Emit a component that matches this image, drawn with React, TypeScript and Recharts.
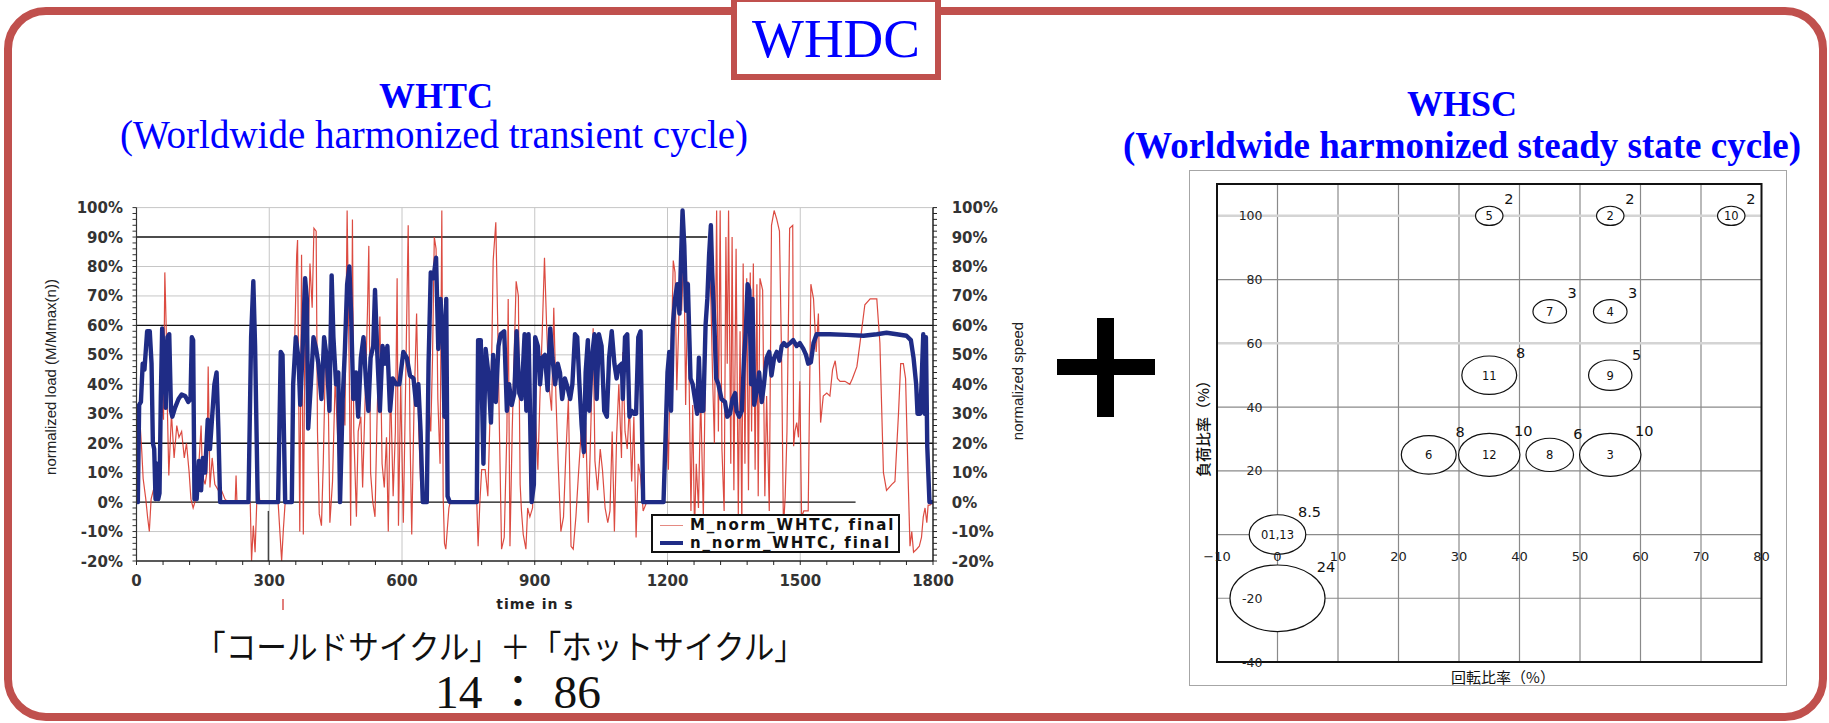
import React from 'react';
import {
  LineChart, Line, XAxis, YAxis, CartesianGrid, ReferenceLine, Legend,
  ScatterChart, Scatter, ZAxis, ReferenceArea,
} from 'recharts';

// WHTC trace: [time in s, % of max]
const torqueTrace: [number, number][] = [
  [0, 0], [4, 9], [8, 27], [12, 17], [15, 8], [21, 1], [25, -5], [29, -10], [33, 1], [38, 4], [43, 5], [49, 4],
  [55, 35], [61, 28], [64, 78], [67, 60], [70, 30], [73, 9], [79, 30], [85, 15], [91, 26], [96, 22], [102, 24],
  [108, 15], [113, 20], [119, 10], [123, 1], [128, -2], [136, 2], [141, 13], [146, 26], [149, 9], [155, 6],
  [159, 10], [162, 46], [166, 5], [171, 15], [177, 6], [185, 4], [192, 4], [200, 1], [207, 0], [223, 0], [225, 9],
  [227, 0], [257, 0], [260, -20], [264, -8], [268, -17], [272, 1], [275, 5], [279, 0], [320, 0], [324, -10],
  [328, -20], [332, -9], [336, 0], [351, 0], [354, 24], [358, 58], [362, 84], [364, 89], [366, 47], [369, -10],
  [373, 84], [377, -11], [381, 64], [385, 33], [392, 81], [397, 66], [401, 93], [406, 92], [409, 24], [413, -4],
  [418, -8], [422, 13], [428, 55], [433, 40], [437, -7], [443, 7], [449, 42], [456, 17], [460, 6], [466, 40],
  [471, 26], [476, 99], [481, 42], [484, -8], [488, 96], [491, 24], [497, -5], [501, 24], [507, 29], [511, 5],
  [516, 31], [522, 65], [525, 87], [529, 10], [534, 0], [539, -5], [544, 31], [550, 63], [555, 13], [560, 5],
  [565, 22], [569, -10], [574, 40], [580, 2], [585, 24], [589, 76], [592, -8], [597, 40], [603, -7], [609, 47],
  [614, 94], [618, 24], [622, -11], [627, 31], [633, 64], [638, 24], [642, 7], [648, 0], [659, 0], [660, 35],
  [665, 24], [669, 49], [673, 90], [677, 86], [681, 35], [686, 13], [690, 99], [693, 2], [696, -14], [699, -16],
  [702, -10], [706, -2], [709, 0], [769, 0], [772, -15], [776, 0], [780, 11], [788, 11], [794, 2], [803, 52],
  [806, 82], [812, 95], [816, 63], [820, 26], [825, -16], [831, -12], [837, 24], [840, 69], [844, -15], [849, 24],
  [854, 53], [858, 75], [863, 70], [867, 6], [870, -3], [874, -11], [880, -16], [884, -2], [889, -5], [895, -2],
  [901, 31], [907, 11], [912, 37], [917, 58], [922, 83], [927, 59], [932, 40], [938, 31], [943, 66], [948, 35],
  [953, 13], [959, -10], [965, -5], [970, 15], [976, 35], [982, -15], [987, -16], [993, -5], [999, 10], [1005, 24],
  [1010, 15], [1015, 27], [1021, -7], [1027, 27], [1032, 59], [1036, 14], [1042, 4], [1048, 18], [1053, 11],
  [1059, -2], [1065, -7], [1070, -3], [1075, 24], [1080, -10], [1085, 22], [1090, 40], [1096, 15], [1099, 51],
  [1104, 24], [1109, 18], [1114, 33], [1119, 7], [1124, 29], [1129, -12], [1134, 13], [1139, 9], [1145, -3],
  [1153, 0], [1191, 0], [1194, 13], [1198, 31], [1202, 11], [1206, 47], [1210, 60], [1213, 82], [1217, 78],
  [1221, 38], [1225, 58], [1228, 81], [1232, 65], [1237, 87], [1241, 33], [1246, 75], [1249, 40], [1253, -3],
  [1257, 33], [1261, -10], [1265, 13], [1270, -2], [1275, 36], [1281, -5], [1286, 49], [1290, 72], [1294, 83],
  [1298, 69], [1302, 42], [1306, 20], [1311, 99], [1315, 24], [1319, 99], [1323, 18], [1328, -3], [1332, 90],
  [1335, 47], [1338, 99], [1343, 13], [1346, 90], [1350, 4], [1355, 86], [1360, -4], [1364, 58], [1368, -10],
  [1371, 81], [1375, 13], [1379, 76], [1383, 4], [1387, 78], [1390, 24], [1394, 81], [1398, 11], [1402, 74],
  [1405, 2], [1409, 76], [1415, 72], [1420, 2], [1424, 36], [1430, -3], [1435, 94], [1441, 99], [1447, 96],
  [1453, 92], [1458, 47], [1462, -9], [1466, 2], [1470, 24], [1476, 93], [1483, 94], [1485, 19], [1488, 24],
  [1492, 27], [1496, 22], [1499, 41], [1503, -5], [1508, -3], [1518, -3], [1524, 74], [1530, 69], [1536, 51],
  [1541, 64], [1546, 27], [1552, 36], [1560, 37], [1567, 36], [1573, 45], [1579, 48], [1584, 42], [1590, 41],
  [1601, 41], [1612, 40], [1618, 42], [1628, 46], [1635, 54], [1646, 67], [1658, 69], [1673, 69], [1680, 54],
  [1688, 10], [1695, 4], [1707, 6], [1714, 7], [1722, 30], [1727, 47], [1733, 47], [1738, 42], [1744, 7],
  [1748, -15], [1752, -10], [1756, -17], [1763, -16], [1769, -15], [1774, -12], [1778, -5], [1782, -2],
  [1786, -7], [1789, -1], [1793, -1], [1800, 0],
];

const speedTrace: [number, number][] = [
  [0, 0], [3, 0], [6, 33], [10, 34], [14, 47], [18, 45], [24, 58], [30, 58], [34, 47], [37, 20], [40, 18], [43, 1],
  [46, 13], [49, 1], [52, 3], [55, 36], [58, 59], [63, 48], [66, 32], [70, 56], [74, 57], [78, 31], [81, 29],
  [87, 32], [95, 35], [102, 36.5], [110, 36], [117, 34], [122, 35], [125, 56], [128, 55], [131, 1], [136, 1],
  [141, 14], [146, 4], [150, 15], [155, 10], [161, 28], [166, 18], [171, 29], [176, 40], [181, 44], [185, 25],
  [189, 0], [253, 0], [259, 56], [264, 75], [268, 53], [274, 0], [320, 0], [326, 51], [330, 50], [336, 0],
  [351, 0], [354, 40], [360, 56], [366, 49], [370, 33], [375, 50], [381, 76], [385, 69], [388, 25], [394, 40],
  [400, 56], [406, 52], [411, 47], [418, 35], [424, 56], [430, 49], [436, 31], [441, 77], [445, 56], [451, 40],
  [456, 44], [460, 0], [466, 35], [471, 52], [476, 74], [481, 80], [485, 64], [490, 35], [496, 44], [501, 29],
  [507, 49], [513, 56], [519, 40], [524, 31], [529, 49], [535, 53], [539, 72], [544, 51], [550, 31], [556, 53],
  [562, 47], [567, 53], [573, 31], [579, 42], [587, 40], [594, 40], [603, 51], [611, 49], [618, 43], [626, 42],
  [632, 33], [637, 40], [642, 24], [647, 0], [656, 0], [660, 47], [665, 78], [671, 76], [677, 83], [682, 52],
  [687, 69], [692, 58], [696, 29], [700, 69], [703, 2], [708, 0], [769, 0], [772, 55], [778, 55], [784, 13],
  [789, 52], [795, 44], [801, 27], [806, 50], [812, 34], [818, 53], [823, 57], [831, 58], [837, 31], [842, 40],
  [848, 33], [854, 37], [859, 58], [865, 37], [870, 35], [877, 57], [881, 31], [886, 57], [889, 33], [893, 0],
  [898, 6], [901, 56], [907, 53], [912, 40], [917, 49], [923, 50], [929, 38], [935, 59], [940, 49], [946, 40],
  [952, 47], [957, 44], [962, 35], [968, 42], [974, 39], [980, 35], [985, 40], [991, 57], [996, 56], [1001, 40],
  [1006, 26], [1011, 17], [1015, 44], [1020, 55], [1023, 31], [1029, 49], [1035, 57], [1040, 35], [1045, 57],
  [1051, 53], [1057, 31], [1063, 29], [1068, 49], [1074, 58], [1080, 47], [1085, 42], [1090, 46], [1097, 47],
  [1099, 35], [1104, 56], [1109, 57], [1114, 29], [1119, 31], [1124, 30], [1129, 30], [1134, 56], [1139, 58],
  [1142, 29], [1145, 0], [1191, 0], [1196, 24], [1200, 44], [1204, 51], [1208, 31], [1212, 60], [1217, 69],
  [1222, 74], [1227, 64], [1231, 85], [1234, 99], [1238, 87], [1242, 65], [1246, 74], [1249, 58], [1252, 42],
  [1257, 40], [1262, 35], [1267, 30], [1271, 49], [1275, 31], [1281, 31], [1286, 60], [1290, 69], [1294, 84],
  [1298, 94], [1301, 78], [1306, 60], [1310, 42], [1315, 40], [1322, 35], [1330, 34], [1335, 29], [1341, 30],
  [1347, 35], [1353, 37], [1356, 31], [1362, 29], [1368, 31], [1373, 49], [1377, 58], [1381, 74], [1385, 72],
  [1389, 40], [1392, 69], [1396, 33], [1402, 38], [1407, 44], [1413, 34], [1418, 40], [1424, 49], [1430, 51],
  [1435, 43], [1441, 49], [1447, 51], [1453, 48], [1458, 53], [1463, 54], [1469, 53], [1477, 54], [1484, 55],
  [1492, 53], [1499, 54], [1507, 52], [1513, 50], [1518, 47], [1524, 47.5], [1530, 54], [1537, 57], [1567, 57],
  [1605, 56.8], [1643, 56.5], [1673, 57], [1695, 57.5], [1718, 57], [1740, 56.5], [1750, 55], [1756, 49],
  [1762, 40], [1765, 30], [1771, 30], [1774, 40], [1778, 57], [1781, 30], [1784, 56], [1787, 19], [1792, 0],
  [1800, 0],
];

const seriesNames = ['M_norm_WHTC, final', 'n_norm_WHTC, final'];
const timeLabels = [0, 300, 600, 900, 1200, 1500, 1800];
const percentLabels = [-20, -10, 0, 10, 20, 30, 40, 50, 60, 70, 80, 90, 100];

// WHSC modes: speed %, load %, weighting %
const modeNames = ['01,13', '', '5', '2', '10', '7', '4', '11', '9', '6', '12', '8', '3'];
const modeSpeed = [0, 0, 35, 55, 75, 45, 55, 35, 55, 25, 35, 45, 55];
const modeLoad = [0, -20, 100, 100, 100, 70, 70, 50, 50, 25, 25, 25, 25];
const modeWeight = [8.5, 24, 2, 2, 2, 3, 3, 8, 5, 8, 10, 6, 10];

const speedTicks = [-10, 0, 10, 20, 30, 40, 50, 60, 70, 80];
const loadTicks = [-40, -20, 0, 20, 40, 60, 80, 100];

const RED = '#d8372c';
const NAVY = '#1f2c86';
const FRAME = '#c0504d';

const minorTime = Array.from({ length: 31 }, (_, i) => i * 60);
const minorLoad = Array.from({ length: 61 }, (_, i) => -20 + i * 2);

const axisFont = { fontFamily: 'DejaVu Sans', fontWeight: 700, fontSize: 15, fill: '#333' };

const blankTick = () => <g />;

const timeTick = (p: any) =>
  timeLabels.includes(p.payload.value) ? (
    <text x={p.x} y={p.y + 19} textAnchor="middle" {...axisFont}>{p.payload.value}</text>
  ) : <g />;

const percentTick = (anchor: 'start' | 'end') => (p: any) =>
  percentLabels.includes(p.payload.value) ? (
    <text x={p.x} y={p.y + 5.5} textAnchor={anchor} {...axisFont}>{p.payload.value}%</text>
  ) : <g />;

const WhtcLegend = () => (
  <div style={{
    width: 249, height: 39, border: '2px solid #111', background: '#fff', boxSizing: 'border-box',
    position: 'relative', fontFamily: 'DejaVu Sans', fontWeight: 700, fontSize: 15, letterSpacing: 1.8, color: '#111',
  }}>
    {seriesNames.map((name, i) => (
      <div key={name} style={{ position: 'absolute', left: 0, top: i === 0 ? 1 : 19, height: 17, width: '100%' }}>
        <div style={{
          position: 'absolute', left: 7, top: 8 - (i === 0 ? 0.5 : 2), width: 23, height: i === 0 ? 1 : 4,
          background: i === 0 ? '#e58a82' : NAVY,
        }} />
        <div style={{ position: 'absolute', left: 37, top: -1, lineHeight: '18px', whiteSpace: 'nowrap' }}>{name}</div>
      </div>
    ))}
  </div>
);

function WhtcChart() {
  const torque = torqueTrace.map(([t, v]) => ({ t, v }));
  const speed = speedTrace.map(([t, v]) => ({ t, v }));
  return (
    <div style={{ position: 'absolute', left: 0, top: 180 }}>
      <LineChart width={1000} height={430} margin={{ top: 27.6, right: 7, bottom: 19, left: 76.5 }}>
        <CartesianGrid yAxisId="load" horizontalValues={[100, 80, 70, 50, 40, 30, 10, -10]}
          verticalValues={[300, 600, 900, 1200, 1500]} stroke="#c6c6c6" />
        <CartesianGrid yAxisId="load" horizontalValues={[60, 20]} vertical={false} stroke="#111" strokeWidth={1.4} />
        <XAxis type="number" dataKey="t" domain={[0, 1800]} ticks={minorTime} interval={0} height={30}
          tickSize={4} tickMargin={2} tick={timeTick} allowDataOverflow
          axisLine={{ stroke: '#222', strokeWidth: 1.5 }} tickLine={{ stroke: '#222' }} />
        <YAxis yAxisId="load" domain={[-20, 100]} ticks={minorLoad} interval={0} width={60}
          tickSize={4} tickMargin={9.5} tick={percentTick('end')} allowDataOverflow
          axisLine={{ stroke: '#333', strokeWidth: 1.2 }} tickLine={{ stroke: '#333' }} />
        <YAxis yAxisId="speed" orientation="right" domain={[-20, 100]} ticks={minorLoad} interval={0} width={60}
          tickSize={4} tickMargin={14.7} tick={percentTick('start')} allowDataOverflow
          axisLine={{ stroke: '#222', strokeWidth: 1.5 }} tickLine={{ stroke: '#222' }} />
        <ReferenceLine yAxisId="load" segment={[{ x: 0, y: 90 }, { x: 1290, y: 90 }]} stroke="#111" strokeWidth={1.4} />
        <ReferenceLine yAxisId="load" segment={[{ x: 0, y: 0 }, { x: 1625, y: 0 }]} stroke="#111" strokeWidth={1.4} />
        <ReferenceLine yAxisId="load" segment={[{ x: 298, y: -20 }, { x: 298, y: -3 }]} stroke="#444" strokeWidth={1.4} />
        <Line yAxisId="load" data={torque} dataKey="v" name={seriesNames[0]} stroke={RED} strokeWidth={1.2}
          strokeOpacity={0.9} dot={false} isAnimationActive={false} />
        <Line yAxisId="load" data={speed} dataKey="v" name={seriesNames[1]} stroke={NAVY} strokeWidth={4.4}
          strokeLinejoin="round" dot={false} isAnimationActive={false} />
        <Legend layout="horizontal" verticalAlign="middle" align="center" content={() => <WhtcLegend />}
          wrapperStyle={{ left: 651, top: 334, width: 249, height: 39 }} />
      </LineChart>
    </div>
  );
}

const Bubble = (p: any) => {
  const w = p.width ?? 2 * Math.sqrt((p.size ?? 0) / Math.PI);
  const rx = w / 2;
  const ry = rx * 0.7;
  return (
    <g>
      <ellipse cx={p.cx} cy={p.cy} rx={rx} ry={ry} fill="#fff" stroke="#111" strokeWidth={1.2} />
      {p.payload.name ? (
        <text x={p.cx} y={p.cy + 4.5} textAnchor="middle" fontFamily="DejaVu Sans" fontSize={11.5} fill="#111">
          {p.payload.name}
        </text>
      ) : null}
      <text x={p.cx + rx * 0.85 + 8} y={p.cy - ry * 0.6 - 6} textAnchor="middle" fontFamily="DejaVu Sans"
        fontSize={14.5} fill="#111">{p.payload.z}</text>
    </g>
  );
};

const loadLabel = (p: any) => (
  <text x={p.cx - 15} y={p.cy + 4.5} textAnchor="end" fontFamily="DejaVu Sans" fontSize={12.5} fill="#222">
    {p.payload.y}
  </text>
);

const speedLabel = (p: any) => (
  <text x={p.cx} y={p.cy + 26} textAnchor="middle" fontFamily="DejaVu Sans" fontSize={13} fill="#222">
    {p.payload.x < 0 ? `\u2212${-p.payload.x}` : p.payload.x}
  </text>
);

function WhscChart() {
  const modes = modeNames.map((name, i) => ({ x: modeSpeed[i], y: modeLoad[i], z: modeWeight[i], name }));
  const xLabelPts = speedTicks.map((x) => ({ x, y: 0 }));
  const yLabelPts = loadTicks.filter((v) => v !== 0).map((y) => ({ x: 0, y }));
  return (
    <div style={{ position: 'absolute', left: 1190, top: 171 }}>
      <ScatterChart width={596} height={514} margin={{ top: 13, right: 24.5, bottom: 23, left: 27 }}>
        <CartesianGrid horizontalValues={[-20, 0, 20, 40, 80]} verticalValues={[0, 10, 20, 30, 40, 50, 60, 70]}
          stroke="#8a8a8a" strokeWidth={1.2} />
        <CartesianGrid horizontalValues={[60, 100]} vertical={false} stroke="#d4d4d4" strokeWidth={2.5} />
        <XAxis type="number" dataKey="x" domain={[-10, 80]} ticks={speedTicks} interval={0} height={0}
          axisLine={false} tickLine={false} tick={blankTick} />
        <YAxis type="number" dataKey="y" domain={[-40, 110]} ticks={loadTicks} interval={0} width={0}
          axisLine={false} tickLine={false} tick={blankTick} />
        <ZAxis type="number" dataKey="z" domain={[0, 24]} range={[0, 7094]} />
        <ReferenceArea x1={-10} x2={80} y1={-40} y2={110} fill="none" stroke="#111" strokeWidth={2} />
        <Scatter data={modes} shape={Bubble} isAnimationActive={false} />
        <Scatter data={yLabelPts} shape={loadLabel} isAnimationActive={false} />
        <Scatter data={xLabelPts} shape={speedLabel} isAnimationActive={false} />
      </ScatterChart>
    </div>
  );
}

export default function App() {
  return (
    <div style={{ position: 'absolute', left: 0, top: 0, width: 1829, height: 723, background: '#fff', overflow: 'hidden' }}>
      <div style={{
        position: 'absolute', left: 4, top: 7, width: 1823, height: 714, border: `8px solid ${FRAME}`,
        borderRadius: 42, boxSizing: 'border-box',
      }} />
      <div style={{
        position: 'absolute', left: 731, top: -4, width: 210, height: 84, border: `6px solid ${FRAME}`,
        background: '#fff', boxSizing: 'border-box',
      }} />
      <div style={{ position: 'absolute', left: 1189, top: 170, width: 598, height: 516, border: '1.5px solid #a6a6a6', boxSizing: 'border-box' }} />
      <div style={{ position: 'absolute', left: 1057, top: 359, width: 98, height: 16, background: '#000' }} />
      <div style={{ position: 'absolute', left: 1097, top: 318, width: 17, height: 99, background: '#000' }} />
      <svg width={1829} height={723} style={{ position: 'absolute', left: 0, top: 0 }}>
        <text x={836} y={57} textAnchor="middle" fontFamily="Liberation Serif" fontSize={55} fill="#0000ff">WHDC</text>
        <text x={436} y={108} textAnchor="middle" fontFamily="Liberation Serif" fontWeight={700} fontSize={36} fill="#0000ff">WHTC</text>
        <text x={434} y={148} textAnchor="middle" fontFamily="Liberation Serif" fontSize={39} fill="#0000ff">
          (Worldwide harmonized transient cycle)
        </text>
        <text x={1462} y={116} textAnchor="middle" fontFamily="Liberation Serif" fontWeight={700} fontSize={36} fill="#0000ff">WHSC</text>
        <text x={1462} y={158} textAnchor="middle" fontFamily="Liberation Serif" fontWeight={700} fontSize={37} fill="#0000ff">
          (Worldwide harmonized steady state cycle)
        </text>
        <text transform="translate(56 377) rotate(-90)" textAnchor="middle" fontFamily="Liberation Sans" fontSize={15} fill="#222">
          normalized load (M/Mmax(n))
        </text>
        <text transform="translate(1023 381) rotate(-90)" textAnchor="middle" fontFamily="Liberation Sans" fontSize={15} fill="#222">
          normalized speed
        </text>
        <text x={535} y={609} textAnchor="middle" fontFamily="DejaVu Sans" fontWeight={700} fontSize={14} letterSpacing={1} fill="#222">
          time in s
        </text>
        <line x1={283} y1={599} x2={283} y2={610} stroke="#d9534f" strokeWidth={1.5} />
        <text x={500} y={659} textAnchor="middle" fontFamily="Noto Sans CJK JP" fontSize={33} textLength={610}
          lengthAdjust="spacingAndGlyphs" fill="#111">
          「コールドサイクル」＋「ホットサイクル」
        </text>
        <text x={518} y={708} textAnchor="middle" fontFamily="Liberation Serif, Noto Sans CJK JP" fontSize={46} textLength={166}
          lengthAdjust="spacingAndGlyphs" fill="#111">
          14 ： 86
        </text>
        <text transform="translate(1209 425) rotate(-90)" textAnchor="middle" fontFamily="Noto Sans CJK JP" fontWeight={500} fontSize={15} fill="#111">
          負荷比率（%）
        </text>
        <text x={1503} y={683} textAnchor="middle" fontFamily="Noto Sans CJK JP" fontSize={15} fill="#111">
          回転比率（%）
        </text>
      </svg>
      <WhtcChart />
      <WhscChart />
    </div>
  );
}
